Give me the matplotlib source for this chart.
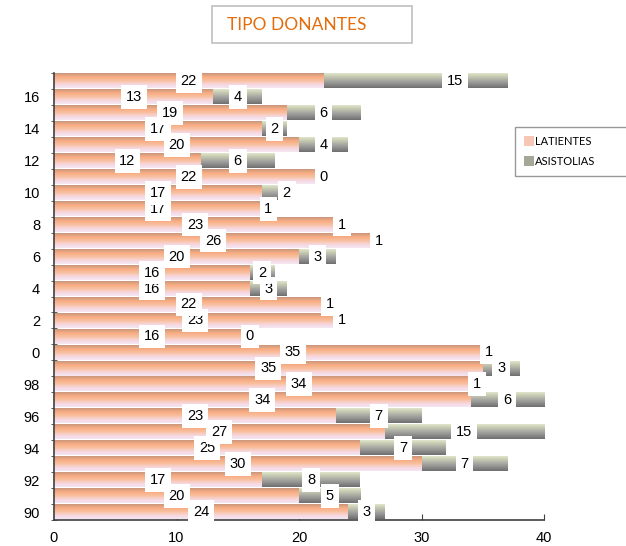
import numpy as np
import matplotlib
matplotlib.use("Agg")
from matplotlib import pyplot as plt
from matplotlib.colors import LinearSegmentedColormap
from matplotlib.patches import Rectangle, Patch

years = list(range(1990, 2018))
latientes = [24, 20, 17, 30, 25, 27, 23, 34, 34, 35, 35, 16, 23, 22, 16, 16,
             20, 26, 23, 17, 17, 22, 12, 20, 17, 19, 13, 22]
asistolias = [3, 5, 8, 7, 7, 15, 7, 6, 1, 3, 1, 0, 1, 1, 3, 2,
              3, 1, 1, 1, 2, 0, 6, 4, 2, 6, 4, 15]

# labels that were dragged by hand in the original sheet (x nudge, data units)
nudge_lat = {1998: 3.0, 2000: 2.0}
nudge_asi = {2017: 3.2, 1995: -1.0, 2010: 1.0}

plt.rcParams['font.family'] = ['Liberation Sans', 'DejaVu Sans']

fig = plt.figure(figsize=(6.26, 5.46), dpi=100)
ax = fig.add_axes([54 / 626, 26 / 546, 490 / 626, 447 / 546])

y = np.arange(len(years))
bars_lat = ax.barh(y, latientes, height=0.9, color='none', edgecolor='none')
bars_asi = ax.barh(y, asistolias, left=latientes, height=0.9, color='none', edgecolor='none')

cmap_lat = LinearSegmentedColormap.from_list(
    'lat', ['#c8967a', '#f8ac84', '#f9bf9e', '#f6d6dc', '#f2e6f4'])
cmap_asi = LinearSegmentedColormap.from_list(
    'asi', ['#dfe6c8', '#c4c8b0', '#a8a8a2', '#8c8c8c', '#6e6e6e'])
grad = np.linspace(0, 1, 64).reshape(-1, 1)

for bars, cmap in [(bars_lat, cmap_lat), (bars_asi, cmap_asi)]:
    for b in bars:
        if b.get_width() <= 0:
            continue
        x0, y0 = b.get_x(), b.get_y()
        im = ax.imshow(grad, cmap=cmap, aspect='auto', origin='upper',
                       extent=(x0, x0 + b.get_width(), y0, y0 + b.get_height()),
                       zorder=2)
        im.set_clip_path(b)
        im.set_clip_box(ax.bbox)

ax.set_xlim(0, 40)
ax.set_ylim(-0.5, len(years) - 0.5)

box = dict(facecolor='white', edgecolor='none', pad=3.5)
for i, yr in enumerate(years):
    lx = latientes[i] / 2 + nudge_lat.get(yr, 0)
    ax.text(lx, i, str(latientes[i]), ha='center', va='center', fontsize=10.5,
            bbox=box, zorder=5)
    ax_ = latientes[i] + asistolias[i] / 2 + nudge_asi.get(yr, 0)
    ax.text(ax_, i, str(asistolias[i]), ha='center', va='center', fontsize=10.5,
            bbox=box, zorder=5)

ax.set_yticks(y[::2])
ax.set_yticklabels([str(yr % 100) for yr in years[::2]], fontsize=10.5)
ax.set_yticks(np.arange(-0.5, len(years)), minor=True)
ax.tick_params(axis='y', which='major', length=0, pad=10)
ax.tick_params(axis='y', which='minor', length=5, direction='inout', color='#404040')
ax.set_xticks([0, 10, 20, 30, 40])
ax.tick_params(axis='x', length=4, direction='in', labelsize=10.5, pad=8, color='#404040')
for s in ['top', 'right']:
    ax.spines[s].set_visible(False)
for s in ['left', 'bottom']:
    ax.spines[s].set_color('#404040')
    ax.spines[s].set_linewidth(1.2)

# title box
fig.patches.append(Rectangle((212 / 626, 1 - 43 / 546), 200 / 626, 37 / 546,
                             transform=fig.transFigure, facecolor='white',
                             edgecolor='#bfbfbf', linewidth=1.2))
fig.text(227 / 626, 1 - 25 / 546, 'TIPO DONANTES', color='#e46c0a', fontsize=12.5,
         family=['Lato', 'DejaVu Sans'], va='center', ha='left')

handles = [Patch(facecolor='#f7c6b4', edgecolor='none', label='LATIENTES'),
           Patch(facecolor='#a4a898', edgecolor='none', label='ASISTOLIAS')]
leg = fig.legend(handles=handles, loc='upper left', mode='expand',
                 bbox_to_anchor=(515 / 626, 1 - 176 / 546, 118 / 626, 49 / 546),
                 prop={'family': ['Lato', 'DejaVu Sans'], 'size': 8},
                 frameon=True, fancybox=False, handlelength=0.9, handleheight=0.9,
                 handletextpad=0.1, borderpad=0.8, labelspacing=0.8, borderaxespad=0)
leg.get_frame().set_edgecolor('#808080')
leg.get_frame().set_linewidth(1.0)

fig.savefig('out.png', dpi=100)
